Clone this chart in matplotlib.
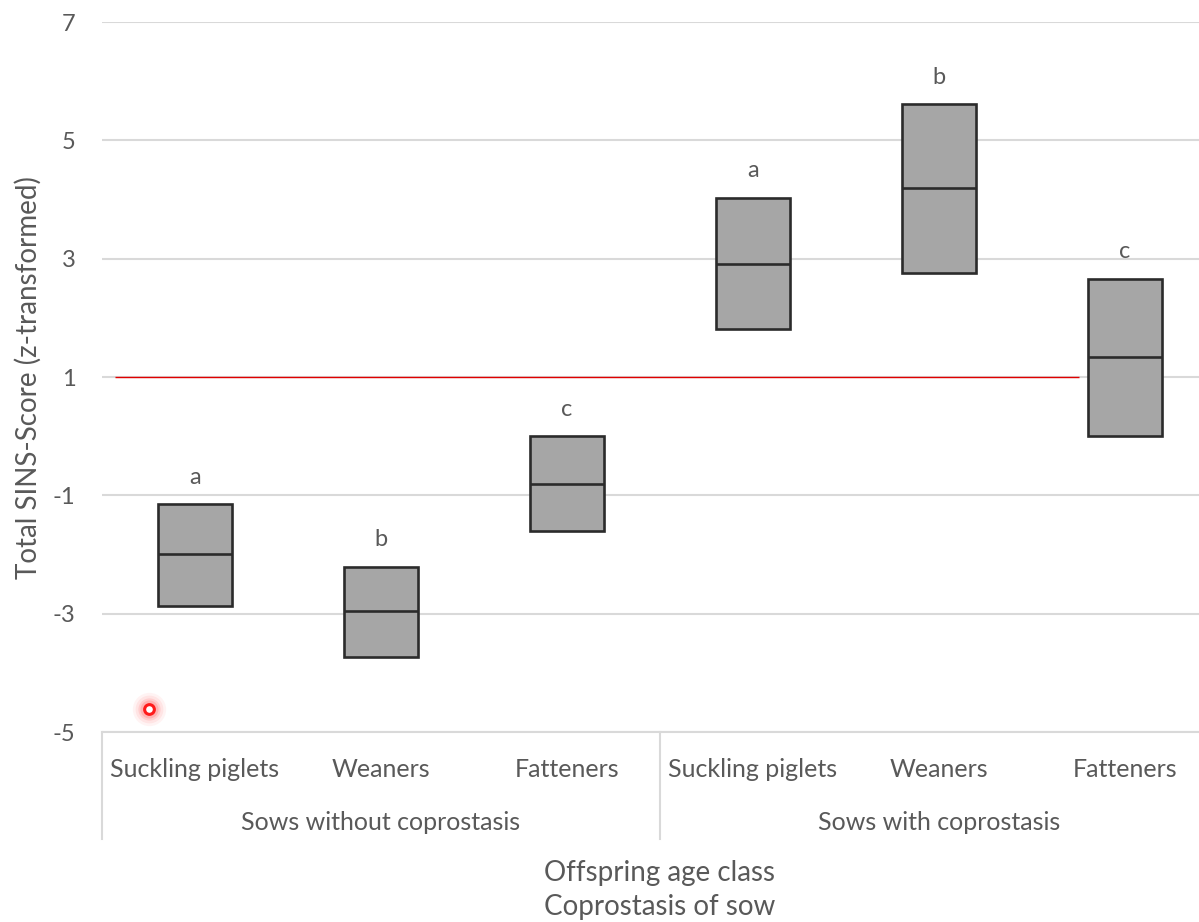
import matplotlib
matplotlib.use("Agg")
import matplotlib.pyplot as plt
import matplotlib.transforms as mtransforms

plt.rcParams['font.family'] = ['Lato', 'DejaVu Sans']

# Box summary per offspring age class and sow group
age_classes = ["Suckling piglets", "Weaners", "Fatteners",
               "Suckling piglets", "Weaners", "Fatteners"]
groups = ["Sows without coprostasis", "Sows with coprostasis"]
box_low = [-2.87, -3.73, -1.60, 1.81, 2.76, 0.00]
box_high = [-1.15, -2.21, 0.00, 4.03, 5.61, 2.66]
box_median = [-1.99, -2.95, -0.81, 2.91, 4.19, 1.34]
letters = ["a", "b", "c", "a", "b", "c"]

ref_level = 1.0
outlier = (-0.25, -4.61)

y_ticks = [-5, -3, -1, 1, 3, 5, 7]

TXT = "#595959"
GRID = "#d9d9d9"

fig = plt.figure(figsize=(11.99, 9.22), dpi=100)
# the category axis runs a bit past the right border of the figure
ax = fig.add_axes([102 / 1199, 190 / 922, 1116 / 1199, 710 / 922])

x = list(range(len(age_classes)))
ax.set_xlim(-0.5, len(age_classes) - 0.5)
ax.set_ylim(-5, 7)

ax.set_yticks(y_ticks)
ax.set_yticklabels([str(v) for v in y_ticks])
ax.yaxis.grid(True, color=GRID, linewidth=1.5)
ax.set_axisbelow(True)
ax.tick_params(axis="y", length=0, pad=19, labelsize=17, labelcolor=TXT)

ax.set_xticks(x)
ax.set_xticklabels(age_classes)
ax.tick_params(axis="x", length=0, pad=19, labelsize=18, labelcolor=TXT)

for side in ["left", "right", "top"]:
    ax.spines[side].set_visible(False)
ax.spines["bottom"].set_color(GRID)
ax.spines["bottom"].set_linewidth(1.5)

# boxes with median line
heights = [h - l for l, h in zip(box_low, box_high)]
ax.bar(x, heights, bottom=box_low, width=0.40, color="#a6a6a6",
       edgecolor="#2b2b2b", linewidth=1.9, zorder=3)
ax.hlines(box_median, [i - 0.2 for i in x], [i + 0.2 for i in x],
          color="#2b2b2b", linewidth=1.9, zorder=4)

for i, top, lab in zip(x, box_high, letters):
    ax.annotate(lab, (i, top), xytext=(0, 12), textcoords="offset points",
                ha="center", va="bottom", fontsize=17, color=TXT)

# reference level
ax.hlines(ref_level, -0.43, 4.75, color="#e00000", linewidth=1.0, zorder=2)

# highlighted point with soft glow
for ms, a in [(24, 0.05), (20, 0.07), (16, 0.11), (13, 0.16)]:
    ax.plot(*outlier, marker="o", markersize=ms, color="#ff2020",
            alpha=a, markeredgewidth=0, zorder=5)
ax.plot(*outlier, marker="o", markersize=7, markerfacecolor="white",
        markeredgecolor="#ff1a1a", markeredgewidth=2.2, zorder=6)

# grouped category axis
trans = mtransforms.blended_transform_factory(ax.transData, ax.transAxes)
for xs in [-0.5, 2.5, 5.5]:
    ax.plot([xs, xs], [0, -0.15], transform=trans, color=GRID,
            linewidth=1.5, clip_on=False)
for g, name in enumerate(groups):
    ax.text(3 * g + 1, -0.127, name, transform=trans, ha="center",
            va="center", fontsize=18, color=TXT)

ax.text(2.5, -0.199, "Offspring age class", transform=trans, ha="center",
        va="center", fontsize=20, color=TXT)
ax.text(2.5, -0.247, "Coprostasis of sow", transform=trans, ha="center",
        va="center", fontsize=20, color=TXT)

fig.text(28 / 1199, 1 - 378 / 922, "Total SINS-Score (z-transformed)",
         rotation=90, ha="center", va="center", fontsize=20, color=TXT)

fig.savefig("out.png", dpi=100)
